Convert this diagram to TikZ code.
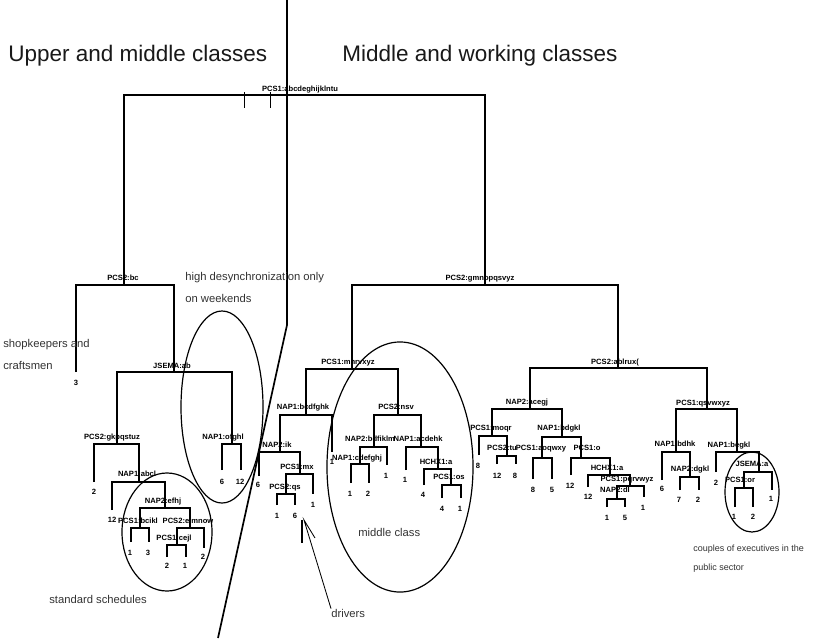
\documentclass[tikz,border=0pt]{standalone}
\usepackage{fontspec}
\setmainfont{Liberation Sans}
\begin{document}
\begin{tikzpicture}[x=0.025cm,y=-0.025cm,
  treeA/.style={line width=1.5pt},
  tree/.style={line width=2pt},
  lab/.style={font=\fontsize{5.4}{6}\selectfont\bfseries, inner sep=0pt, anchor=base, yshift=-0.0675cm},
  num/.style={lab},
  note/.style={font=\fontsize{8}{9.6}\selectfont, text=black!80, inner sep=0pt, anchor=west},
  smallnote/.style={font=\fontsize{6.4}{7.7}\selectfont, text=black!80, inner sep=0pt, anchor=west},
  ttl/.style={font=\fontsize{16}{19}\selectfont, text=black!90, inner sep=0pt, anchor=west},
  oval/.style={line width=0.85pt},
  divider/.style={line width=1.2pt},
  thinline/.style={line width=0.6pt}]
\useasboundingbox (0,0) rectangle (814,640);
\fill[white] (0,0) rectangle (814,640);

% ---------- internal nodes (bar level, x of parent vertical) ----------
\coordinate (R) at (304,95);
\coordinate (A) at (124,285);
\coordinate (C) at (174,372);
\coordinate (D) at (117,444);
\coordinate (E) at (139,482);
\coordinate (F) at (165,508);
\coordinate (G) at (140,528);
\coordinate (H) at (190,528);
\coordinate (I) at (177,545);
\coordinate (J) at (232,444);
\coordinate (B) at (485,285);
\coordinate (K) at (352,369);
\coordinate (L) at (306,415);
\coordinate (M) at (280,452);
\coordinate (N) at (300,474);
\coordinate (O) at (286,494);
\coordinate (P) at (398,415);
\coordinate (Q) at (374,447);
\coordinate (S) at (360,464);
\coordinate (T) at (421,447);
\coordinate (U) at (438,469);
\coordinate (V) at (451,485);
\coordinate (W) at (618,368);
\coordinate (X) at (530,409);
\coordinate (Y) at (492,436);
\coordinate (Z) at (507,456);
\coordinate (AA) at (562,437);
\coordinate (AB) at (542,458);
\coordinate (AC) at (581,458);
\coordinate (AD) at (610,475);
\coordinate (AE) at (630,486);
\coordinate (AF) at (617,499);
\coordinate (AG) at (707,409);
\coordinate (AH) at (676,452);
\coordinate (AI) at (690,477);
\coordinate (AJ) at (737,452);
\coordinate (AK) at (759,472);
\coordinate (AL) at (744,488);

% ---------- leaf ends ----------
\coordinate (a1) at (76,372);
\coordinate (d1) at (94,482);
\coordinate (e1) at (112,510);
\coordinate (g1) at (131,542);
\coordinate (g2) at (149,542);
\coordinate (i1) at (167,557);
\coordinate (i2) at (186,557);
\coordinate (h2) at (204,548);
\coordinate (j1) at (222,470);
\coordinate (j2) at (241,470);
\coordinate (m1) at (259,476);
\coordinate (o1) at (277,505);
\coordinate (o2) at (295,505);
\coordinate (n2) at (313,494);
\coordinate (l2) at (332,452);
\coordinate (s1) at (351,483);
\coordinate (s2) at (369,483);
\coordinate (q2) at (387,465);
\coordinate (t1) at (406,470);
\coordinate (u1) at (424,485);
\coordinate (v1) at (442,498);
\coordinate (v2) at (461,498);
\coordinate (y1) at (479,455);
\coordinate (z1) at (497,464);
\coordinate (z2) at (516,464);
\coordinate (ab1) at (533,479);
\coordinate (ab2) at (552,479);
\coordinate (ac1) at (571,475);
\coordinate (ad1) at (588,487);
\coordinate (af1) at (607,507);
\coordinate (af2) at (625,507);
\coordinate (ae2) at (644,497);
\coordinate (ah1) at (662,480);
\coordinate (ai1) at (680,490);
\coordinate (ai2) at (699,490);
\coordinate (aj1) at (716,472);
\coordinate (al1) at (735,507);
\coordinate (al2) at (753,507);
\coordinate (ak2) at (772,490);

% ---------- tree connectors ----------
\draw[treeA] (A) |- (R) -| (B);
\draw[treeA] (a1) |- (A) -| (C);
\draw[tree] (D) |- (C) -| (J);
\draw[tree] (d1) |- (D) -| (E);
\draw[tree] (e1) |- (E) -| (F);
\draw[tree] (G) |- (F) -| (H);
\draw[tree] (g1) |- (G) -| (g2);
\draw[tree] (I) |- (H) -| (h2);
\draw[tree] (i1) |- (I) -| (i2);
\draw[tree] (j1) |- (J) -| (j2);

\draw[treeA] (K) |- (B) -| (W);
\draw[treeA] (L) |- (K) -| (P);
\draw[tree] (M) |- (L) -| (l2);
\draw[tree] (m1) |- (M) -| (N);
\draw[tree] (O) |- (N) -| (n2);
\draw[tree] (o1) |- (O) -| (o2);
\draw[tree] (Q) |- (P) -| (T);
\draw[tree] (S) |- (Q) -| (q2);
\draw[tree] (s1) |- (S) -| (s2);
\draw[tree] (t1) |- (T) -| (U);
\draw[tree] (u1) |- (U) -| (V);
\draw[tree] (v1) |- (V) -| (v2);

\draw[treeA] (X) |- (W) -| (AG);
\draw[tree] (Y) |- (X) -| (AA);
\draw[tree] (y1) |- (Y) -| (Z);
\draw[tree] (z1) |- (Z) -| (z2);
\draw[tree] (AB) |- (AA) -| (AC);
\draw[tree] (ab1) |- (AB) -| (ab2);
\draw[tree] (ac1) |- (AC) -| (AD);
\draw[tree] (ad1) |- (AD) -| (AE);
\draw[tree] (AF) |- (AE) -| (ae2);
\draw[tree] (af1) |- (AF) -| (af2);
\draw[tree] (AH) |- (AG) -| (AJ);
\draw[tree] (ah1) |- (AH) -| (AI);
\draw[tree] (ai1) |- (AI) -| (ai2);
\draw[tree] (aj1) |- (AJ) -| (AK);
\draw[tree] (AL) |- (AK) -| (ak2);
\draw[tree] (al1) |- (AL) -| (al2);

% ---------- split labels ----------
\node[lab] (lR) at (300,89) {PCS1:abcdeghijklntu};
\node[lab] (lA) at (123,278) {PCS2:bc};
\node[lab] (lC) at (172,366) {JSEMA:ab};
\node[lab] (lD) at (112,437) {PCS2:gkpqstuz};
\node[lab] (lE) at (137,474) {NAP1:abcl};
\node[lab] (lF) at (163,501) {NAP2:efhj};
\node[lab] (lG) at (138,521) {PCS1:bcikl};
\node[lab] (lH) at (188,521) {PCS2:eimnow};
\node[lab] (lI) at (174,538) {PCS1:cejl};
\node[lab] (lJ) at (223,437) {NAP1:ofghl};
\node[lab] (lB) at (480,278) {PCS2:gmnopqsvyz};
\node[lab] (lK) at (348,362) {PCS1:mnrvxyz};
\node[lab] (lL) at (303,407) {NAP1:bcdfghk};
\node[lab] (lM) at (277,445) {NAP2:ik};
\node[lab] (lN) at (297,467) {PCS1:mx};
\node[lab] (lO) at (285,487) {PCS2:qs};
\node[lab] (lS) at (357,458) {NAP1:cdefghj};
\node[lab] (lP) at (396,407) {PCS2:nsv};
\node[lab] (lQ) at (370,439) {NAP2:bdfiklm};
\node[lab] (lT) at (418,439) {NAP1:acdehk};
\node[lab] (lU) at (436,462) {HCHX1:a};
\node[lab] (lV) at (449,477) {PCS1:os};
\node[lab] (lW) at (615,362) {PCS2:ablrux(};
\node[lab] (lX) at (527,402) {NAP2:acegj};
\node[lab] (lY) at (491,428) {PCS1:moqr};
\node[lab] (lZ) at (502,448) {PCS2:tu};
\node[lab] (lAA) at (559,428) {NAP1:bdgkl};
\node[lab] (lAB) at (541,448) {PCS1:aoqwxy};
\node[lab] (lAC) at (587,448) {PCS1:o};
\node[lab] (lAD) at (607,468) {HCHX1:a};
\node[lab] (lAE) at (627,479) {PCS1:pqrvwyz};
\node[lab] (lAF) at (615,490) {NAP2:dl};
\node[lab] (lAG) at (703,403) {PCS1:qsvwxyz};
\node[lab] (lAH) at (675,444) {NAP1:bdhk};
\node[lab] (lAI) at (690,469) {NAP2:dgkl};
\node[lab] (lAJ) at (729,445) {NAP1:begkl};
\node[lab] (lAK) at (752,464) {JSEMA:a};
\node[lab] (lAL) at (740,480) {PCS1:or};

% ---------- leaf counts ----------
\node[num] (na1) at (76,383) {3};
\node[num] (nd1) at (94,492) {2};
\node[num] (ne1) at (112,520) {12};
\node[num] (ng1) at (130,553) {1};
\node[num] (ng2) at (148,553) {3};
\node[num] (ni1) at (167,566) {2};
\node[num] (ni2) at (185,566) {1};
\node[num] (nh2) at (203,557) {2};
\node[num] (nj1) at (222,482) {6};
\node[num] (nj2) at (240,482) {12};
\node[num] (nm1) at (258,485) {6};
\node[num] (no1) at (277,516) {1};
\node[num] (no2) at (295,516) {6};
\node[num] (nn2) at (313,505) {1};
\node[num] (nl2) at (332,462) {1};
\node[num] (ns1) at (350,494) {1};
\node[num] (ns2) at (368,494) {2};
\node[num] (nq2) at (386,476) {1};
\node[num] (nt1) at (405,480) {1};
\node[num] (nu1) at (423,495) {4};
\node[num] (nv1) at (442,509) {4};
\node[num] (nv2) at (460,509) {1};
\node[num] (ny1) at (478,466) {8};
\node[num] (nz1) at (497,476) {12};
\node[num] (nz2) at (515,476) {8};
\node[num] (nab1) at (533,490) {8};
\node[num] (nab2) at (552,490) {5};
\node[num] (nac1) at (570,486) {12};
\node[num] (nad1) at (588,497) {12};
\node[num] (naf1) at (607,518) {1};
\node[num] (naf2) at (625,518) {5};
\node[num] (nae2) at (643,508) {1};
\node[num] (nah1) at (662,489) {6};
\node[num] (nai1) at (679,500) {7};
\node[num] (nai2) at (698,500) {2};
\node[num] (naj1) at (716,483) {2};
\node[num] (nal1) at (734,517) {1};
\node[num] (nal2) at (753,517) {2};
\node[num] (nak2) at (771,499) {1};

% ---------- root tick marks ----------
\coordinate (tk1a) at (244,92); \coordinate (tk1b) at (244,108);
\coordinate (tk2a) at (270,92); \coordinate (tk2b) at (270,108);
\draw[thinline] (tk1a) -- (tk1b);
\draw[thinline] (tk2a) -- (tk2b);

% ---------- divider ----------
\coordinate (dv1) at (287,0);
\coordinate (dv2) at (287,325);
\coordinate (dv3) at (218,638);
\draw[divider] (dv1) -- (dv2) -- (dv3);

% ---------- ellipses ----------
\draw[oval] (222,407) ellipse [x radius=1.025cm, y radius=2.4cm];
\draw[oval] (167,532) ellipse [x radius=1.125cm, y radius=1.475cm];
\draw[oval] (400,467) ellipse [x radius=1.825cm, y radius=3.125cm];
\draw[oval] (752,492) ellipse [x radius=0.675cm, y radius=1.0cm];

% ---------- drivers marker ----------
\coordinate (tb1) at (302,520);
\coordinate (tb2) at (302,543);
\draw[tree] (tb1) -- (tb2);
\coordinate (tip) at (304,520);
\coordinate (barb) at (315,538);

% ---------- annotations ----------
\node[ttl] (t1) at (8,56) {Upper and middle classes};
\node[ttl] (t2) at (342,56) {Middle and working classes};
\node[note] (hd1) at (185,278) {high desynchronization only};
\node[note] (hd2) at (185,298) {on weekends};
\node[note] (sk1) at (3,345) {shopkeepers and};
\node[note] (sk2) at (3,365) {craftsmen};
\node[note] (ss) at (49,599) {standard schedules};
\node[note] (drv) at (331,613) {drivers};
\node[note] (mc) at (358,532) {middle class};
\node[smallnote] (cp1) at (693,549) {couples of executives in the};
\node[smallnote] (cp2) at (693,568) {public sector};

\draw[thinline] (drv.north west) -- (tip) -- (barb);
\end{tikzpicture}
\end{document}
